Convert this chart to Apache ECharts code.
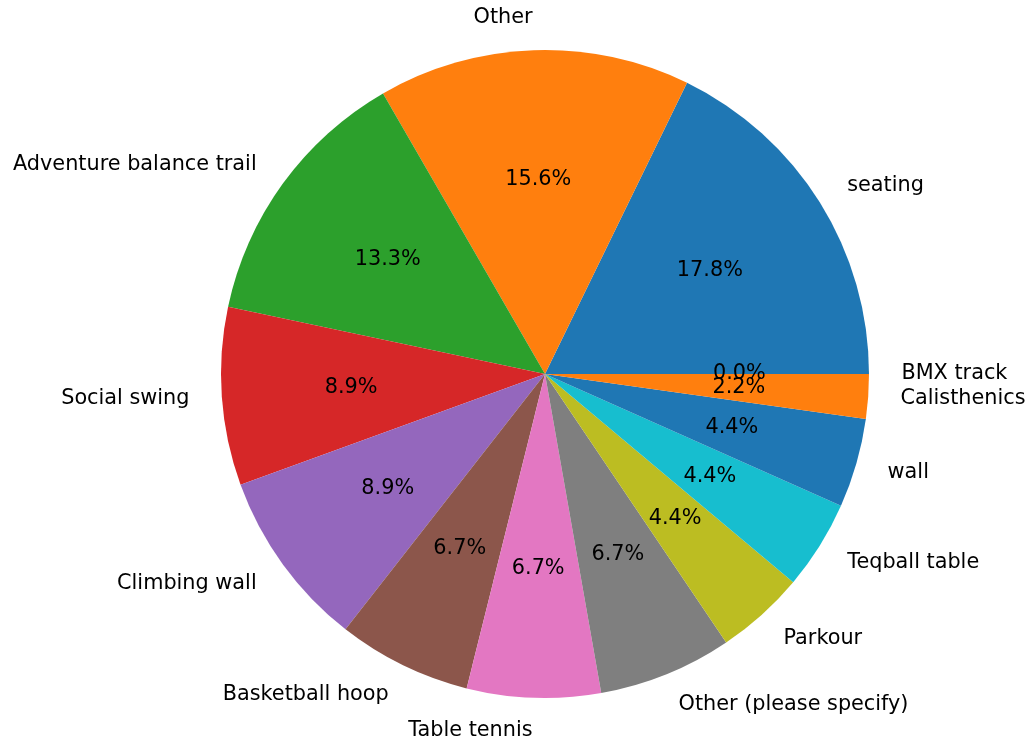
<!DOCTYPE html>
<html>
<head>
<meta charset="utf-8">
<script src="https://cdn.jsdelivr.net/npm/echarts@6/dist/echarts.min.js"></script>
<style>html,body{margin:0;padding:0;background:#fff;}#c{width:1032px;height:744px;}</style>
</head>
<body>
<div id="c"></div>
<script>
const categories = ["seating","Other","Adventure balance trail","Social swing","Climbing wall","Basketball hoop","Table tennis","Other (please specify)","Parkour","Teqball table","wall","Calisthenics","BMX track"];
const counts = [8,7,6,4,4,3,3,3,2,2,2,1,0];
const palette = ["#1f77b4","#ff7f0e","#2ca02c","#d62728","#9467bd","#8c564b","#e377c2","#7f7f7f","#bcbd22","#17becf"];

const R = 324, CX = 545, CY = 374;
const total = counts.reduce((a,b)=>a+b,0);
const data = categories.map((c,i)=>({name:c, value:counts[i], itemStyle:{color:palette[i%palette.length]}}));
const font = "DejaVu Sans";
const FS = 20.8;

const chart = echarts.init(document.getElementById('c'), null, {renderer:'canvas'});
chart.setOption({
  animation:false,
  backgroundColor:'#ffffff',
  series:[
    {
      type:'pie', center:[CX,CY], radius:[0,R], startAngle:0, clockwise:false,
      avoidLabelOverlap:false, minAngle:0, stillShowZeroSum:true,
      itemStyle:{borderWidth:0},
      emphasis:{disabled:true},
      label:{show:true, position:'outside', color:'#000', fontFamily:font, fontSize:FS,
        formatter:'{b}', distanceToLabelLine:0},
      labelLine:{show:false, length:R*0.1, length2:0},
      data:data
    },
    {
      type:'pie', center:[CX,CY], radius:[0,R*0.6], startAngle:0, clockwise:false,
      avoidLabelOverlap:false, silent:true, stillShowZeroSum:true,
      itemStyle:{color:'rgba(0,0,0,0)', borderWidth:0},
      emphasis:{disabled:true},
      label:{show:true, position:'outside', color:'#000', fontFamily:font, fontSize:FS,
        distanceToLabelLine:0,
        formatter:p=>(p.value/total*100).toFixed(1)+'%'},
      labelLine:{show:false, length:0, length2:0},
      labelLayout:function(){ return {align:'center'}; },
      data:categories.map((c,i)=>({name:c, value:counts[i]}))
    }
  ]
});
</script>
</body>
</html>
